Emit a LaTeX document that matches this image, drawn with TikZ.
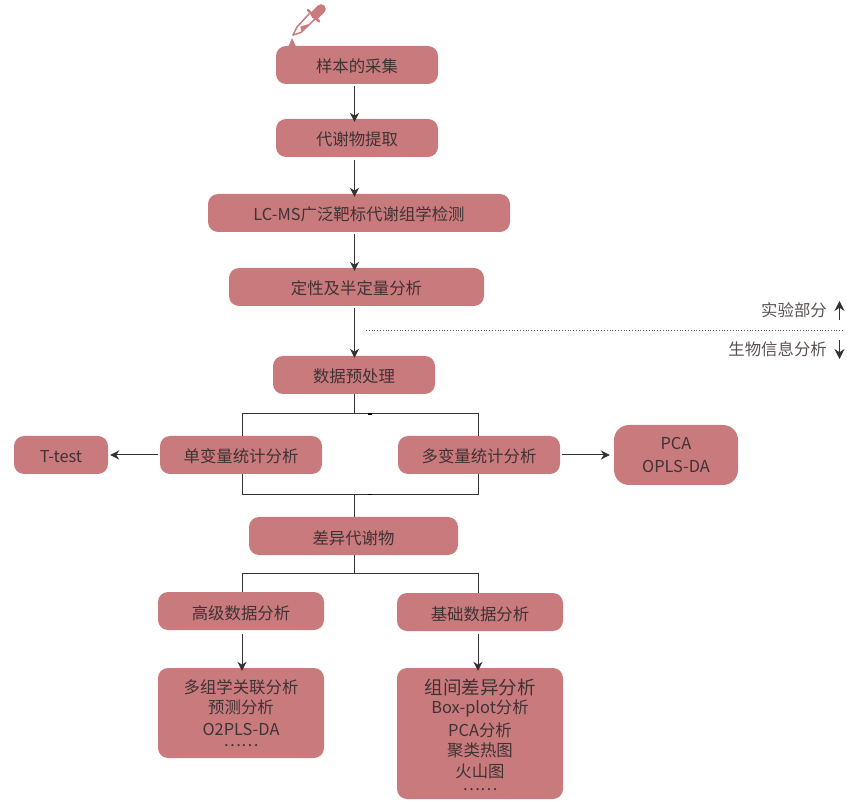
\documentclass[tikz,border=0pt]{standalone}
\usepackage{fontspec}
\setmainfont{Noto Sans CJK SC}
\usetikzlibrary{positioning, arrows.meta}
\definecolor{boxrose}{HTML}{C97A7C}
\definecolor{inktext}{HTML}{3F3335}
\definecolor{wireink}{HTML}{333333}
\tikzset{
	stagebox/.style={fill=boxrose, rounded corners=10pt, text=inktext, font=\fontsize{16.4}{20}\selectfont, align=center, inner sep=0pt},
	oneline/.style={stagebox, minimum height=38pt, text height=16pt, text depth=0pt},
	wire/.style={draw=wireink, line width=1pt},
	flow/.style={wire, -{Stealth[length=9pt, width=9pt]}},
	sideflow/.style={wire, line width=1.3pt, -{Stealth[length=10pt, width=10pt]}},
	sidetext/.style={text=inktext!85, font=\fontsize{16.4}{20}\selectfont, inner sep=0pt}
}
\begin{document}
\begin{tikzpicture}[x=1pt, y=-1pt]
	\useasboundingbox (0,0) rectangle (847,802);
	% experiment stages
	\node[oneline, minimum width=162pt] (sample) at (357,65) {样本的采集};
	\node[oneline, minimum width=162pt] (extract) at (357,138) {代谢物提取};
	\node[oneline, minimum width=302pt] (lcms) at (359,213) {LC-MS广泛靶标代谢组学检测};
	\node[oneline, minimum width=255pt] (quant) at (356.5,287) {定性及半定量分析};
	\node[oneline, minimum width=162pt] (prep) at (354,375) {数据预处理};
	% statistics row
	\node[oneline, minimum width=162pt] (uni) at (241,455) {单变量统计分析};
	\node[oneline, minimum width=162pt] (multi) at (479,455) {多变量统计分析};
	\node[oneline, minimum width=94pt] (ttest) at (61,455) {T-test};
	\node[stagebox, rounded corners=15pt, minimum width=124pt, minimum height=60pt] (pca) at (676,455) {PCA\\[3pt]OPLS-DA};
	\node[oneline, minimum width=209pt] (diff) at (353.5,536) {差异代谢物};
	% downstream analysis
	\node[oneline, minimum width=166pt] (adv) at (241,611) {高级数据分析};
	\node[oneline, minimum width=166pt] (basic) at (480,612) {基础数据分析};
	\node[stagebox, minimum width=166pt, minimum height=90pt] (advlist) at (241,713) {多组学关联分析\\预测分析\\[2pt]O2PLS-DA\\[-9pt]……};
	\node[stagebox, minimum width=166pt, minimum height=131pt] (basiclist) at (480,733.5) {\rule{0pt}{19pt}{\fontsize{18.5}{20}\selectfont 组间差异分析}\\[-1pt]Box-plot分析\\[3pt]PCA分析\\聚类热图\\[1pt]火山图\\[-7pt]……};
	% helper points
	\coordinate (spine) at (354.5,0);
	\coordinate (colL) at (242,0);
	\coordinate (colR) at (478,0);
	\coordinate (splitA) at (354.5,414);
	\coordinate (joinA) at (354.5,494.5);
	\coordinate (splitB) at (354.5,573);
	% arrows
	\draw[flow] (spine |- sample.south) ++(0,2) -- ([yshift=-3pt]spine |- extract.north);
	\draw[flow] (spine |- extract.south) ++(0,3) -- ([yshift=-3pt]spine |- lcms.north);
	\draw[flow] (spine |- lcms.south) ++(0,2) -- ([yshift=-3pt]spine |- quant.north);
	\draw[flow] (spine |- quant.south) ++(0,2) -- ([yshift=-2pt]spine |- prep.north);
	% upper bracket
	\draw[wire] (spine |- prep.south) -- (splitA);
	\draw[wire] (colL |- uni.north) |- (splitA);
	\draw[wire] (colR |- multi.north) |- (splitA);
	\draw[wire] (colL |- uni.south) |- (joinA);
	\draw[wire] (colR |- multi.south) |- (joinA);
	\draw[wire] (joinA) -- (spine |- diff.north);
	\fill[black] (368,413.2) rectangle (371.5,414.8);
	\fill[black] (368,493.7) rectangle (371.5,495.3);
	% lower bracket
	\draw[wire] (spine |- diff.south) -- (splitB);
	\draw[wire] (colL |- adv.north) |- (splitB);
	\draw[wire] (colR |- basic.north) |- (splitB);
	\draw[flow] (colL |- adv.south) ++(0,4) -- ([yshift=-3pt]colL |- advlist.north);
	\draw[flow] (colR |- basic.south) ++(0,3) -- ([yshift=-3pt]colR |- basiclist.north);
	% side arrows
	\draw[flow] ([xshift=-2pt]uni.west) -- ([xshift=2pt]ttest.east);
	\draw[flow] ([xshift=2pt]multi.east) -- ([xshift=-4pt]pca.west);
	% divider
	\draw[wireink!80, line width=0.8pt, dotted] (366,330.5) -- (844,330.5);
	\node[sidetext, anchor=east] (wet) at (827,310.5) {实验部分};
	\node[sidetext, anchor=east] (dry) at (827,349.5) {生物信息分析};
	\coordinate (wetA) at (839.5,320);
	\coordinate (wetB) at (839.5,301);
	\coordinate (dryA) at (839.5,340);
	\coordinate (dryB) at (839.5,359);
	\draw[sideflow] (wetA) -- (wetB);
	\draw[sideflow] (dryA) -- (dryB);
	% dropper
	\fill[boxrose] (292,38) -- (296,46.5) -- (288.5,46.5) -- cycle;
	\draw[boxrose, line width=1.5pt, line cap=round, line join=round] (293,35) -- (301,32.5) -- (315,19);
	\draw[boxrose, line width=1.5pt, line cap=round, line join=round] (293,35) -- (297,27) -- (309,14);
	\fill[boxrose] (300.5,26.5) -- (311,23.5) -- (301,31) -- cycle;
	\draw[boxrose, line width=2.4pt, line cap=round] (308,10) -- (319,21.5);
	\draw[boxrose, line width=9.5pt, line cap=round] (315.5,14.5) -- (321,9);
\end{tikzpicture}
\end{document}
